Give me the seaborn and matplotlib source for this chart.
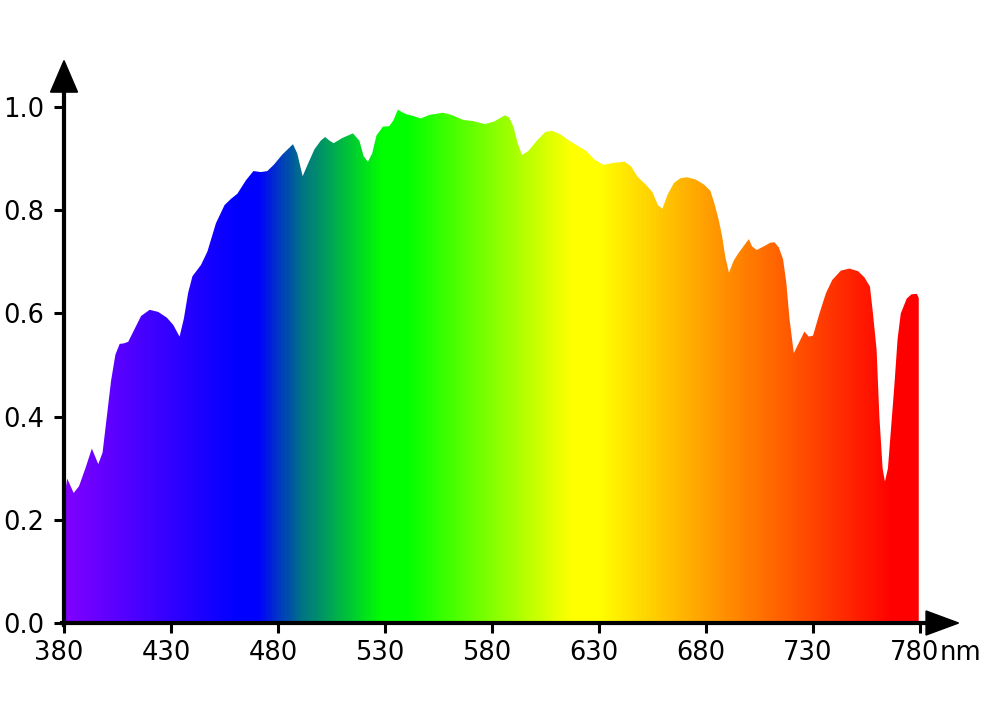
import matplotlib
matplotlib.use('Agg')
import matplotlib.pyplot as plt
from matplotlib.colors import LinearSegmentedColormap
from matplotlib.transforms import ScaledTranslation
import numpy as np
import seaborn as sns

# spectrum (wavelength in nm, relative intensity)
wavelength = [380, 381.5, 384.5, 387, 390, 393, 396, 398, 400, 402, 404, 406, 408, 410,
              413, 416, 420, 424, 428, 431, 434, 436, 438, 440, 444, 447, 451, 455, 458,
              461, 465, 468.5, 472, 475, 478, 482, 487, 489, 491.5, 494, 497, 500, 502,
              504, 506, 510, 515, 518, 520, 522, 524, 526, 529, 532, 534, 536, 538, 540,
              543, 546.6, 551, 557, 561, 566.6, 571, 576.7, 581, 586, 588, 590, 592, 594,
              597, 601, 605, 608, 612, 616, 620, 624, 628, 632, 637, 642, 645, 648, 652,
              655, 657.5, 659.6, 662, 665, 668, 671, 675, 679, 682, 684, 686, 687.5, 689,
              690.7, 693, 695, 698, 700, 701.5, 703.7, 707, 710, 712, 714, 716, 717.5, 719,
              721, 723, 726, 728, 730, 733, 736, 739, 743, 747, 751, 754, 756.6, 758,
              759.7, 761, 762.5, 763.6, 765, 766.5, 768, 769.5, 771, 773.8, 776, 778.5, 779.4]
intensity = [0.24, 0.28, 0.252, 0.265, 0.30, 0.338, 0.308, 0.33, 0.40, 0.47, 0.52, 0.541, 0.542, 0.545,
             0.57, 0.595, 0.607, 0.603, 0.592, 0.578, 0.555, 0.59, 0.64, 0.672, 0.694, 0.72, 0.775, 0.81, 0.822,
             0.832, 0.858, 0.876, 0.874, 0.876, 0.888, 0.908, 0.928, 0.91, 0.866, 0.89, 0.918, 0.935, 0.942,
             0.935, 0.93, 0.94, 0.949, 0.935, 0.905, 0.894, 0.91, 0.945, 0.962, 0.963, 0.975, 0.995, 0.99, 0.986,
             0.983, 0.978, 0.985, 0.989, 0.985, 0.975, 0.973, 0.967, 0.972, 0.984, 0.98, 0.962, 0.93, 0.907,
             0.915, 0.935, 0.952, 0.954, 0.947, 0.935, 0.925, 0.915, 0.898, 0.888, 0.892, 0.894, 0.885, 0.865, 0.849,
             0.835, 0.81, 0.803, 0.83, 0.853, 0.862, 0.864, 0.86, 0.85, 0.838, 0.812, 0.78, 0.75, 0.71,
             0.679, 0.703, 0.716, 0.733, 0.744, 0.73, 0.723, 0.73, 0.737, 0.738, 0.728, 0.705, 0.66, 0.59,
             0.523, 0.54, 0.565, 0.555, 0.557, 0.6, 0.639, 0.665, 0.683, 0.687, 0.682, 0.67, 0.652, 0.6,
             0.53, 0.4, 0.3, 0.274, 0.30, 0.38, 0.46, 0.55, 0.6, 0.629, 0.637, 0.638, 0.63]

x_ticks = [380, 430, 480, 530, 580, 630, 680, 730, 780]
y_ticks = [0.0, 0.2, 0.4, 0.6, 0.8, 1.0]

# colour of the fill along the wavelength axis
color_nm = [380, 460, 470, 490, 528, 540, 617, 630, 680, 768, 780]
color_hex = ['#8000ff', '#0000ff', '#0000ff', '#007088', '#00ff00', '#00ff00',
             '#ffff00', '#ffff00', '#ffa000', '#ff0000', '#ff0000']

sns.set_theme(style='ticks')
plt.rcParams['font.family'] = ['DejaVu Sans']

fig = plt.figure(figsize=(9.88, 7.05), dpi=100)
ax = fig.add_axes([0.0648, 0.1163, 0.9054, 0.7977])

x_lo, x_hi = 380, 780
stops = [((c - x_lo) / (x_hi - x_lo), h) for c, h in zip(color_nm, color_hex)]
cmap = LinearSegmentedColormap.from_list('spectrum', stops)

poly = ax.fill_between(wavelength, intensity, 0, facecolor='none', edgecolor='none')
grad = np.linspace(0, 1, 800).reshape(1, -1)
img = ax.imshow(grad, cmap=cmap, extent=[x_lo, x_hi, 0, 1.1], aspect='auto',
                origin='lower', interpolation='bilinear', zorder=1)
img.set_clip_path(poly.get_paths()[0], transform=ax.transData)

ax.set_xlim(380, 798)
ax.set_ylim(0, 1.09)
ax.set_aspect('auto')

ax.set_xticks(x_ticks)
ax.set_xticklabels([str(t) for t in x_ticks])
ax.set_yticks(y_ticks)
ax.set_yticklabels(['%.1f' % t for t in y_ticks])
ax.tick_params(axis='both', direction='out', length=7, width=2.2, color='black',
               labelsize=18.5, labelcolor='black')
ax.tick_params(axis='x', pad=5)
ax.tick_params(axis='y', pad=7)

# labels in the reference sit a little left of their ticks
shift = ScaledTranslation(-5 / 100, 0, fig.dpi_scale_trans)
for lbl in ax.get_xticklabels():
    lbl.set_transform(lbl.get_transform() + shift)

sns.despine(ax=ax)
for side in ['left', 'bottom']:
    ax.spines[side].set_linewidth(3)
    ax.spines[side].set_color('black')
    ax.spines[side].set_zorder(3)
ax.spines['left'].set_bounds(-0.004, 1.04)
ax.spines['bottom'].set_bounds(379, 785)

# arrow heads on both axes
ax.fill([782.8, 798, 782.8], [0.0233, 0, -0.0233], color='black', clip_on=False, zorder=4)
ax.fill([373.7, 380, 386.3], [1.029, 1.09, 1.029], color='black', clip_on=False, zorder=4)

ax.annotate('nm', xy=(780, 0), xycoords='data', xytext=(14, -12),
            textcoords='offset points', ha='left', va='top', fontsize=18.5, color='black')

fig.savefig('out.png', dpi=100)
